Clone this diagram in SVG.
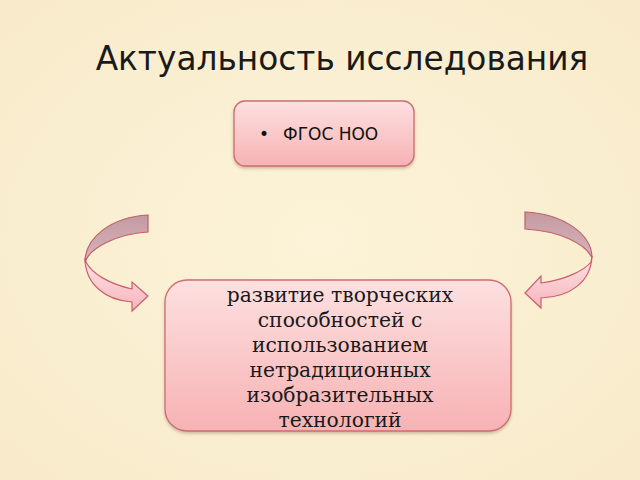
<svg xmlns="http://www.w3.org/2000/svg" width="640" height="480" viewBox="0 0 640 480">
<defs>
<style>
.box{stroke:#CC6E70;stroke-width:1.3;filter:url(#sh)}
.back{fill:url(#gBack);stroke:#C0606C;stroke-width:1.2}
.front{fill:url(#gFront);stroke:#C8606C;stroke-width:1.2}
.title{font-family:"DejaVu Sans",sans-serif;font-size:32.8px;fill:#1a1a1a}
.sans{font-family:"DejaVu Sans",sans-serif;font-size:17px;fill:#111}
.serif{font-family:"DejaVu Serif",serif;font-size:20.3px;fill:#1a1a1a;text-anchor:middle}
</style>
<linearGradient id="gBox" x1="0" y1="0" x2="0" y2="1">
<stop offset="0" stop-color="#FDE0E0"/>
<stop offset="1" stop-color="#F7B2B4"/>
</linearGradient>
<linearGradient id="gBack" x1="0" y1="0" x2="0" y2="1">
<stop offset="0" stop-color="#C49AA2"/>
<stop offset="1" stop-color="#D8B4BA"/>
</linearGradient>
<linearGradient id="gFront" x1="0" y1="0" x2="0" y2="1">
<stop offset="0" stop-color="#FFE4E6"/>
<stop offset="1" stop-color="#F6B4BC"/>
</linearGradient>
<radialGradient id="bg" cx="0.5" cy="0.5" r="0.75">
<stop offset="0" stop-color="#FCF3D8"/>
<stop offset="1" stop-color="#F8EACA"/>
</radialGradient>
<filter id="sh" x="-10%" y="-10%" width="120%" height="130%">
<feDropShadow dx="0" dy="2" stdDeviation="1.5" flood-color="#806040" flood-opacity="0.35"/>
</filter>
</defs>
<rect width="640" height="480" fill="url(#bg)"/>
<text class="title" x="342" y="70" text-anchor="middle">Актуальность исследования</text>

<g id="connectors">
<g id="arrow-left">
<path class="back" d="M148,215 C112,217 85,237 85,262 C90,248 116,234 148,232 Z"/>
<path class="front" d="M85,258 C85,284 105,300 132,302 L132,311 L148,296 L132,282 L132,289 C110,284 92,274 86,262 Z"/>
</g>
<g id="arrow-right">
<path class="back" d="M525,212 C565,214 592,235 592,258 C586,244 560,231 525,229 Z"/>
<path class="front" d="M592,256 C591,282 570,297 541,298 L541,308 L525,293 L541,276 L541,283 C565,280 585,270 591,262 Z"/>
</g>
</g>

<g id="node-fgos">
<rect class="box" x="234" y="101" width="180" height="65" rx="11" fill="url(#gBox)"/>
<text class="sans" x="259" y="140">•</text>
<text class="sans" x="283" y="140">ФГОС НОО</text>
</g>

<g id="node-development">
<rect class="box" x="165" y="280" width="346" height="151" rx="22" fill="url(#gBox)"/>
<text class="serif" x="340" y="302">развитие творческих</text>
<text class="serif" x="340" y="327">способностей с</text>
<text class="serif" x="340" y="352">использованием</text>
<text class="serif" x="340" y="377">нетрадиционных</text>
<text class="serif" x="340" y="402">изобразительных</text>
<text class="serif" x="340" y="427">технологий</text>
</g>
</svg>
